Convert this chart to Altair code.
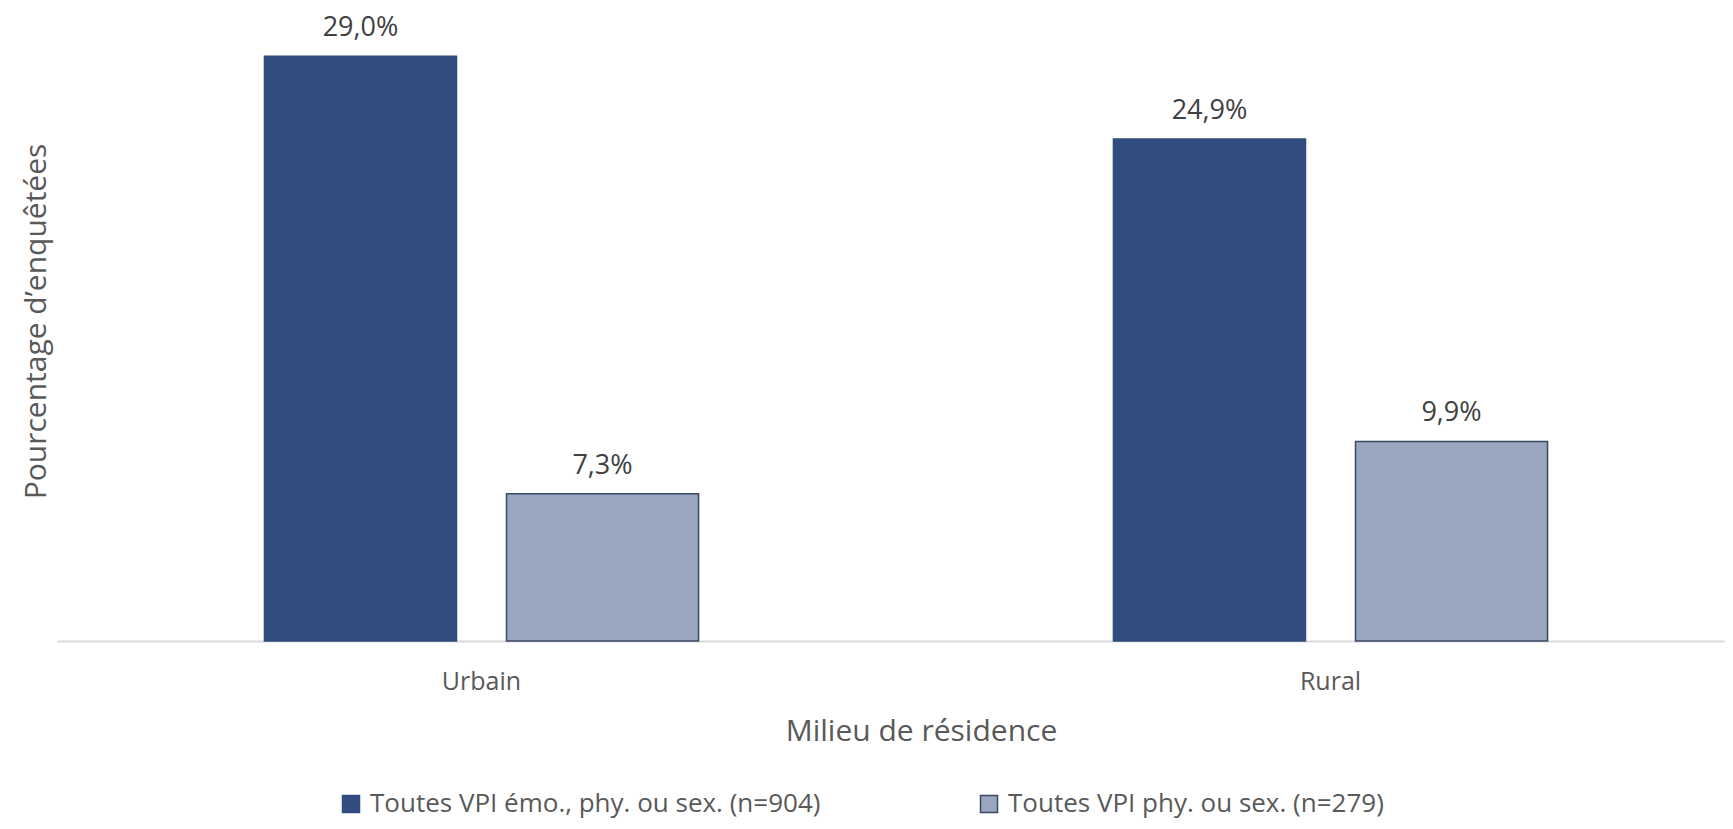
import altair as alt
import pandas as pd

categories = ["Urbain", "Rural"]
series = ["Toutes VPI émo., phy. ou sex. (n=904)", "Toutes VPI phy. ou sex. (n=279)"]
values_emo = [29.0, 24.9]
values_phy = [7.3, 9.9]

rows = []
for i, c in enumerate(categories):
    for s, v in zip(series, [values_emo[i], values_phy[i]]):
        rows.append({"milieu": c, "serie": s, "valeur": v,
                     "label": f"{v:.1f}%".replace(".", ",")})
df = pd.DataFrame(rows)

FONT = "Open Sans"
fill_colors = ["#314C7E", "#99A6BF"]
stroke_colors = ["#314C7E", "#3A4864"]

x_enc = alt.X("milieu:N", sort=categories,
              scale=alt.Scale(range=[0, 1698], paddingInner=0, paddingOuter=0),
              axis=alt.Axis(title="Milieu de résidence", labelAngle=0, ticks=False, tickSize=0,
                            labelFontSize=25, labelColor="#595959", labelFont=FONT,
                            labelBaseline="middle", labelPadding=40,
                            domainColor="#D9D9D9", domainWidth=2,
                            titleFont=FONT, titleFontSize=30, titleFontWeight="normal",
                            titleColor="#595959", titleX=864, titleY=90,
                            titleBaseline="middle"))
xoff = alt.XOffset("serie:N", sort=series,
                   scale=alt.Scale(paddingInner=0.2066, paddingOuter=0.857))
y_enc = alt.Y("valeur:Q", scale=alt.Scale(domain=[0, 31], nice=False),
              axis=alt.Axis(title="Pourcentage d’enquêtées", domain=False, labels=False,
                            ticks=False, grid=False, titleFont=FONT, titleFontSize=30,
                            titleFontWeight="normal", titleColor="#595959",
                            titleX=-21, titleY=305, titleAngle=-90,
                            titleAlign="center", titleBaseline="middle"))

bars = alt.Chart(df).mark_bar(strokeWidth=1.5).encode(
    x=x_enc, xOffset=xoff, y=y_enc,
    fill=alt.Fill("serie:N", sort=series, title=None,
                  scale=alt.Scale(domain=series, range=fill_colors),
                  legend=alt.Legend(orient="none", legendX=281, legendY=775,
                                    direction="horizontal", symbolType="square",
                                    symbolSize=289, labelFontSize=26, labelFont=FONT,
                                    labelColor="#595959", labelLimit=800,
                                    columnPadding=155, symbolStrokeWidth=1.5,
                                    labelOffset=6)),
    stroke=alt.Stroke("serie:N", sort=series, title=None,
                      scale=alt.Scale(domain=series, range=stroke_colors)),
)

text = alt.Chart(df).mark_text(baseline="alphabetic", dy=-20, fontSize=27, font=FONT,
                               color="#404040").encode(
    x=alt.X("milieu:N", sort=categories), xOffset=alt.XOffset("serie:N", sort=series),
    y="valeur:Q", text="label:N")

chart = (bars + text).properties(
    width=1668, height=625,
    autosize=alt.AutoSizeParams(type="none"),
    padding={"left": 49, "top": 8, "right": 0, "bottom": 180},
).configure(background="white", view=alt.ViewConfig(stroke=None))

chart.save("out.html", embed_options={"renderer": "svg", "actions": False})
